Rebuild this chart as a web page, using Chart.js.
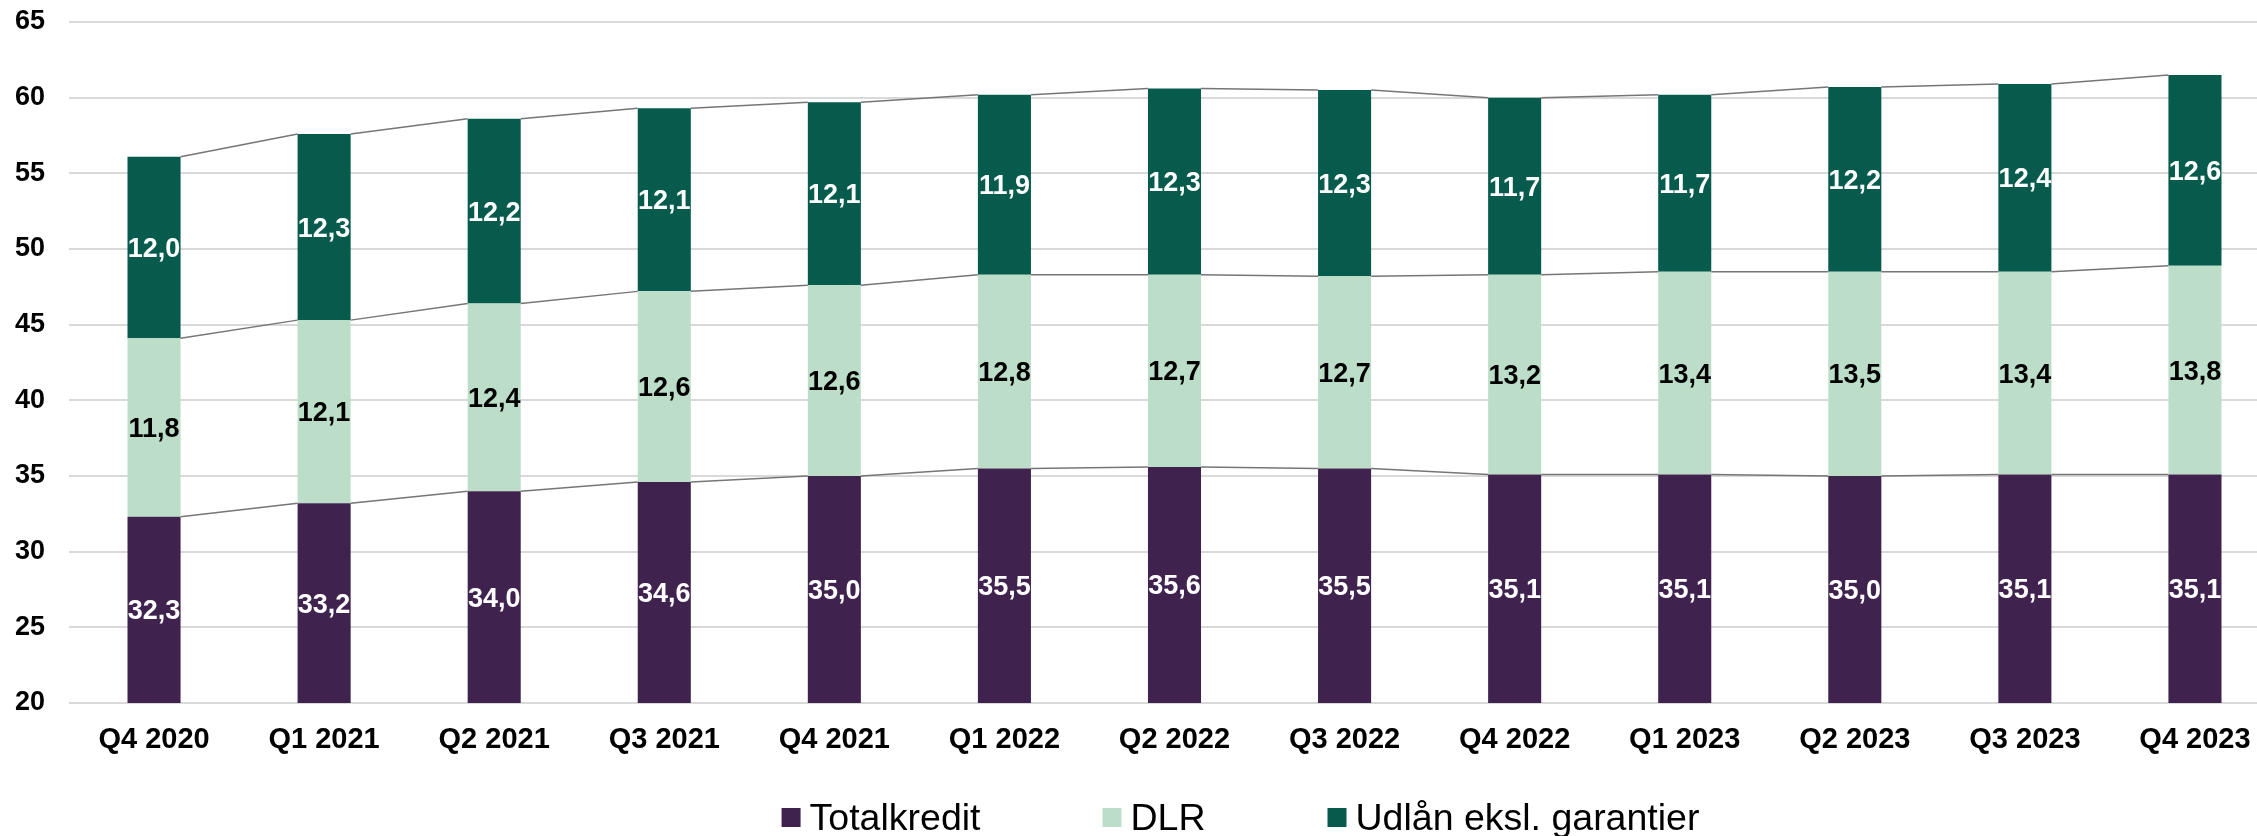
<!DOCTYPE html>
<html>
<head>
<meta charset="utf-8">
<script src="https://cdn.jsdelivr.net/npm/chart.js@4"></script>
<style>
  html, body { margin: 0; padding: 0; background: #ffffff; overflow: hidden; }
  #wrap { position: absolute; left: 0; top: 0; width: 2290px; height: 836px; }
</style>
</head>
<body>
<div id="wrap"><canvas id="c" width="2290" height="836"></canvas></div>
<script>
const categories = ["Q4 2020","Q1 2021","Q2 2021","Q3 2021","Q4 2021","Q1 2022","Q2 2022","Q3 2022","Q4 2022","Q1 2023","Q2 2023","Q3 2023","Q4 2023"];
const totalkredit = [32.3, 33.2, 34.0, 34.6, 35.0, 35.5, 35.6, 35.5, 35.1, 35.1, 35.0, 35.1, 35.1];
const dlr         = [11.8, 12.1, 12.4, 12.6, 12.6, 12.8, 12.7, 12.7, 13.2, 13.4, 13.5, 13.4, 13.8];
const udlaan      = [12.0, 12.3, 12.2, 12.1, 12.1, 11.9, 12.3, 12.3, 11.7, 11.7, 12.2, 12.4, 12.6];
const seriesNames = ["Totalkredit", "DLR", "Udlån eksl. garantier"];
const yTicks = [20, 25, 30, 35, 40, 45, 50, 55, 60, 65];

const FONT = "'Liberation Sans', Arial, sans-serif";
const colors = ["#40224f", "#bcdec8", "#065b4d"];
const labelColors = ["#ffffff", "#000000", "#ffffff"];

const seriesLines = {
  id: 'seriesLines',
  afterDatasetsDraw(chart) {
    const ctx = chart.ctx;
    ctx.save();
    ctx.strokeStyle = '#767676';
    ctx.lineWidth = 1.5;
    chart.data.datasets.forEach((ds, d) => {
      const meta = chart.getDatasetMeta(d);
      for (let i = 0; i < meta.data.length - 1; i++) {
        const a = meta.data[i], b = meta.data[i + 1];
        ctx.beginPath();
        ctx.moveTo(a.x + a.width / 2, a.y);
        ctx.lineTo(b.x - b.width / 2, b.y);
        ctx.stroke();
      }
    });
    ctx.font = "bold 27px " + FONT;
    ctx.textAlign = 'center';
    ctx.textBaseline = 'middle';
    chart.data.datasets.forEach((ds, d) => {
      const meta = chart.getDatasetMeta(d);
      ctx.fillStyle = labelColors[d];
      meta.data.forEach((bar, i) => {
        const top = bar.y;
        const bottom = Math.min(bar.base, chart.chartArea.bottom);
        const yc = (top + bottom) / 2 + 2;
        ctx.fillText(ds.data[i].toFixed(1).replace('.', ','), bar.x, yc);
      });
    });
    ctx.restore();
  }
};

const customLegend = {
  id: 'customLegend',
  afterDraw(chart) {
    const ctx = chart.ctx;
    ctx.save();
    ctx.font = "37.5px " + FONT;
    const box = 19, gapText = 9, gapItem = 122;
    const items = chart.data.datasets.map(ds => ({ text: ds.label, color: ds.backgroundColor, w: ctx.measureText(ds.label).width }));
    let total = 0;
    items.forEach((it, i) => { total += box + gapText + it.w + (i < items.length - 1 ? gapItem : 0); });
    let x = 1240.5 - total / 2;
    const boxTop = 808;
    const baseline = 830;
    ctx.textAlign = 'left';
    ctx.textBaseline = 'alphabetic';
    items.forEach(it => {
      ctx.fillStyle = it.color;
      ctx.fillRect(x, boxTop, box, box);
      x += box + gapText;
      ctx.fillStyle = '#000000';
      ctx.fillText(it.text, x, baseline);
      x += it.w + gapItem;
    });
    ctx.restore();
  }
};

const datasets = [totalkredit, dlr, udlaan].map((vals, i) => ({
  label: seriesNames[i],
  data: vals,
  backgroundColor: colors[i],
  borderWidth: 0,
  barPercentage: 0.312,
  categoryPercentage: 1.0
}));

new Chart(document.getElementById('c'), {
  type: 'bar',
  data: { labels: categories, datasets },
  options: {
    responsive: false,
    devicePixelRatio: 1,
    animation: false,
    layout: { padding: { top: 22, right: 10, bottom: 0, left: 0 } },
    plugins: { legend: { display: false }, tooltip: { enabled: false } },
    scales: {
      x: {
        stacked: true,
        grid: { display: false, drawTicks: false },
        border: { display: false },
        ticks: { color: '#000000', font: { family: FONT, size: 29, weight: 'bold' }, padding: 20, maxRotation: 0, autoSkip: false },
        afterFit(scale) { scale.height = 133; scale.paddingLeft = 0; scale.paddingRight = 0; }
      },
      y: {
        stacked: true,
        min: 20, max: 65,
        afterBuildTicks(scale) { scale.ticks = yTicks.map(v => ({ value: v })); },
        grid: { color: '#d9d9d9', lineWidth: 2, drawTicks: false },
        border: { display: false },
        ticks: { color: '#000000', font: { family: FONT, size: 27, weight: 'bold' }, padding: 24 },
        afterFit(scale) { scale.width = 69; scale.paddingTop = 0; scale.paddingBottom = 0; }
      }
    }
  },
  plugins: [seriesLines, customLegend]
});
</script>
</body>
</html>
